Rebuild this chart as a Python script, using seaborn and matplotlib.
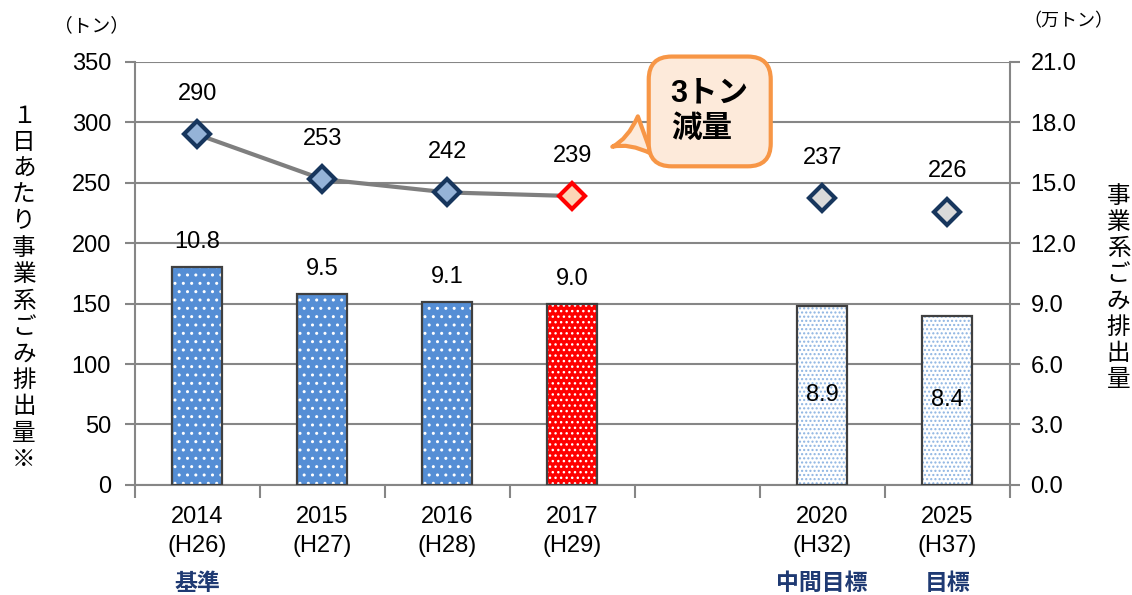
import numpy as np
import pandas as pd
import seaborn as sns
import matplotlib.pyplot as plt

# data
years = ['2014', '2015', '2016', '2017', '2020', '2025']
eras = ['H26', 'H27', 'H28', 'H29', 'H32', 'H37']
daily_tons = [290, 253, 242, 239, 237, 226]          # left axis, line
annual_10k_tons = [10.8, 9.5, 9.1, 9.0, 8.9, 8.4]    # right axis, bars
kinds = ['actual', 'actual', 'actual', 'current', 'target', 'target']
notes = ['基準', '', '', '', '中間目標', '目標']

labels = [f'{y}\n({e})' for y, e in zip(years, eras)]
order = labels[:4] + [' '] + labels[4:]

df = pd.DataFrame({'label': labels, 'daily': daily_tons,
                   'annual': annual_10k_tons, 'kind': kinds})
kind_of = dict(zip(labels, kinds))

plt.rcParams['font.family'] = ['Liberation Sans', 'Noto Sans CJK JP']
plt.rcParams['hatch.linewidth'] = 1.0

grid_c = '#868686'
navy = '#17365D'

fig, ax = plt.subplots(figsize=(11.32, 5.95), dpi=100)
fig.subplots_adjust(left=0.119, right=0.892, top=0.896, bottom=0.185)
ax2 = ax.twinx()

# bars (right axis): fill + dots first, then outline
bar_face = {'actual': '#558ED5', 'current': '#FF0000', 'target': 'white'}
dot_color = {'actual': 'white', 'current': 'white', 'target': '#8DB4E2'}
dot_hatch = {'actual': '..', 'current': '...', 'target': '....'}

sns.barplot(data=df, x='label', y='annual', order=order, ax=ax2,
            width=0.4, color='#558ED5', linewidth=0, errorbar=None)
for p in ax2.patches:
    h = p.get_height()
    if not np.isfinite(h) or h == 0:
        continue
    k = kind_of[order[int(round(p.get_x() + p.get_width() / 2))]]
    p.set_facecolor(bar_face[k])
    p.set_edgecolor(dot_color[k])
    p.set_hatch(dot_hatch[k])
    p.set_linewidth(0)
sns.barplot(data=df, x='label', y='annual', order=order, ax=ax2,
            width=0.4, fill=False, color='#404040', linewidth=1.6,
            errorbar=None)

# bar labels
for lab, v, k in zip(labels, annual_10k_tons, kinds):
    x = order.index(lab)
    if k == 'target':
        ax2.annotate(f'{v:.1f}', (x, v / 2), ha='center', va='center',
                     fontsize=17, zorder=5)
    else:
        ax2.annotate(f'{v:.1f}', (x, v), xytext=(0, 18),
                     textcoords='offset points', ha='center', va='center',
                     fontsize=17)

# line (left axis)
xpos = [order.index(l) for l in labels]
sns.lineplot(x=xpos[:4], y=daily_tons[:4], ax=ax, color='#7F7F7F',
             linewidth=3, zorder=2)
marker_face = {'actual': '#95B3D7', 'current': '#FCD5B5', 'target': '#D9D9D9'}
marker_edge = {'actual': navy, 'current': '#FF0000', 'target': navy}
for x, v, k in zip(xpos, daily_tons, kinds):
    ax.plot(x, v, marker='D', markersize=13, markerfacecolor=marker_face[k],
            markeredgecolor=marker_edge[k], markeredgewidth=3, zorder=3)
    ax.annotate(str(v), (x, v), xytext=(0, 29), textcoords='offset points',
                ha='center', va='center', fontsize=17)

# axes styling
ax.set_xlim(-0.5, len(order) - 0.5)
ax.set_ylim(0, 350)
ax.set_yticks(range(0, 351, 50))
ax2.set_ylim(0, 21)
ax2.set_yticks(np.arange(0, 21.1, 3))
ax2.yaxis.set_major_formatter('{x:.1f}')
ax.set_xticks(range(len(order)))
ax.set_xticklabels(order, linespacing=1.45)
ax.set_xticks(np.arange(-0.5, len(order)), minor=True)
ax.tick_params(axis='x', which='major', length=0, pad=15, labelsize=17)
ax.tick_params(axis='x', which='minor', length=9, width=1.5, color=grid_c)
ax.tick_params(axis='y', length=7, width=1.5, color=grid_c, pad=10,
               labelsize=17)
ax2.tick_params(axis='y', length=7, width=1.5, color=grid_c, pad=8,
                labelsize=17)
ax.grid(axis='y', color=grid_c, linewidth=1.5)
ax.set_axisbelow(True)
ax2.grid(False)
for s in ['top', 'right']:
    ax.spines[s].set_visible(False)
for s in ['top', 'left', 'bottom']:
    ax2.spines[s].set_visible(False)
for s in ['left', 'bottom']:
    ax.spines[s].set_color(grid_c)
    ax.spines[s].set_linewidth(1.5)
ax2.spines['right'].set_color(grid_c)
ax2.spines['right'].set_linewidth(1.5)
ax.set_xlabel('')
ax.set_ylabel('')
ax2.set_xlabel('')
ax2.set_ylabel('')

# notes under the categories
for lab, n in zip(labels, notes):
    if n:
        ax.text(order.index(lab), -0.232, n, transform=ax.get_xaxis_transform(),
                ha='center', va='center', fontsize=16.5, fontweight='bold',
                color='#1F3A73')

# callout
ax.annotate('3トン\n減量', xy=(3.3, 279), xytext=(4.1, 309),
            ha='center', va='center', fontsize=22, fontweight='bold',
            multialignment='left', linespacing=1.25, zorder=10,
            bbox=dict(boxstyle='round,pad=0.72,rounding_size=0.75',
                      fc='#FDEADA', ec='#F79646', lw=3),
            arrowprops=dict(arrowstyle='wedge,tail_width=1.3,shrink_factor=0.3',
                            fc='#FDEADA', ec='#F79646', lw=3))

# axis titles and units
fig.text(0.021, 0.515, '\n'.join('１日あたり事業系ごみ排出量※'), ha='center',
         va='center', fontsize=17, linespacing=1.26)
fig.text(0.988, 0.515, '\n'.join('事業系ごみ排出量'), ha='center',
         va='center', fontsize=17, linespacing=1.24)
fig.text(0.081, 0.956, '（トン）', ha='center', va='center', fontsize=13.5)
fig.text(0.944, 0.964, '（万トン）', ha='center', va='center', fontsize=13)

plt.savefig('out.png', dpi=100)
